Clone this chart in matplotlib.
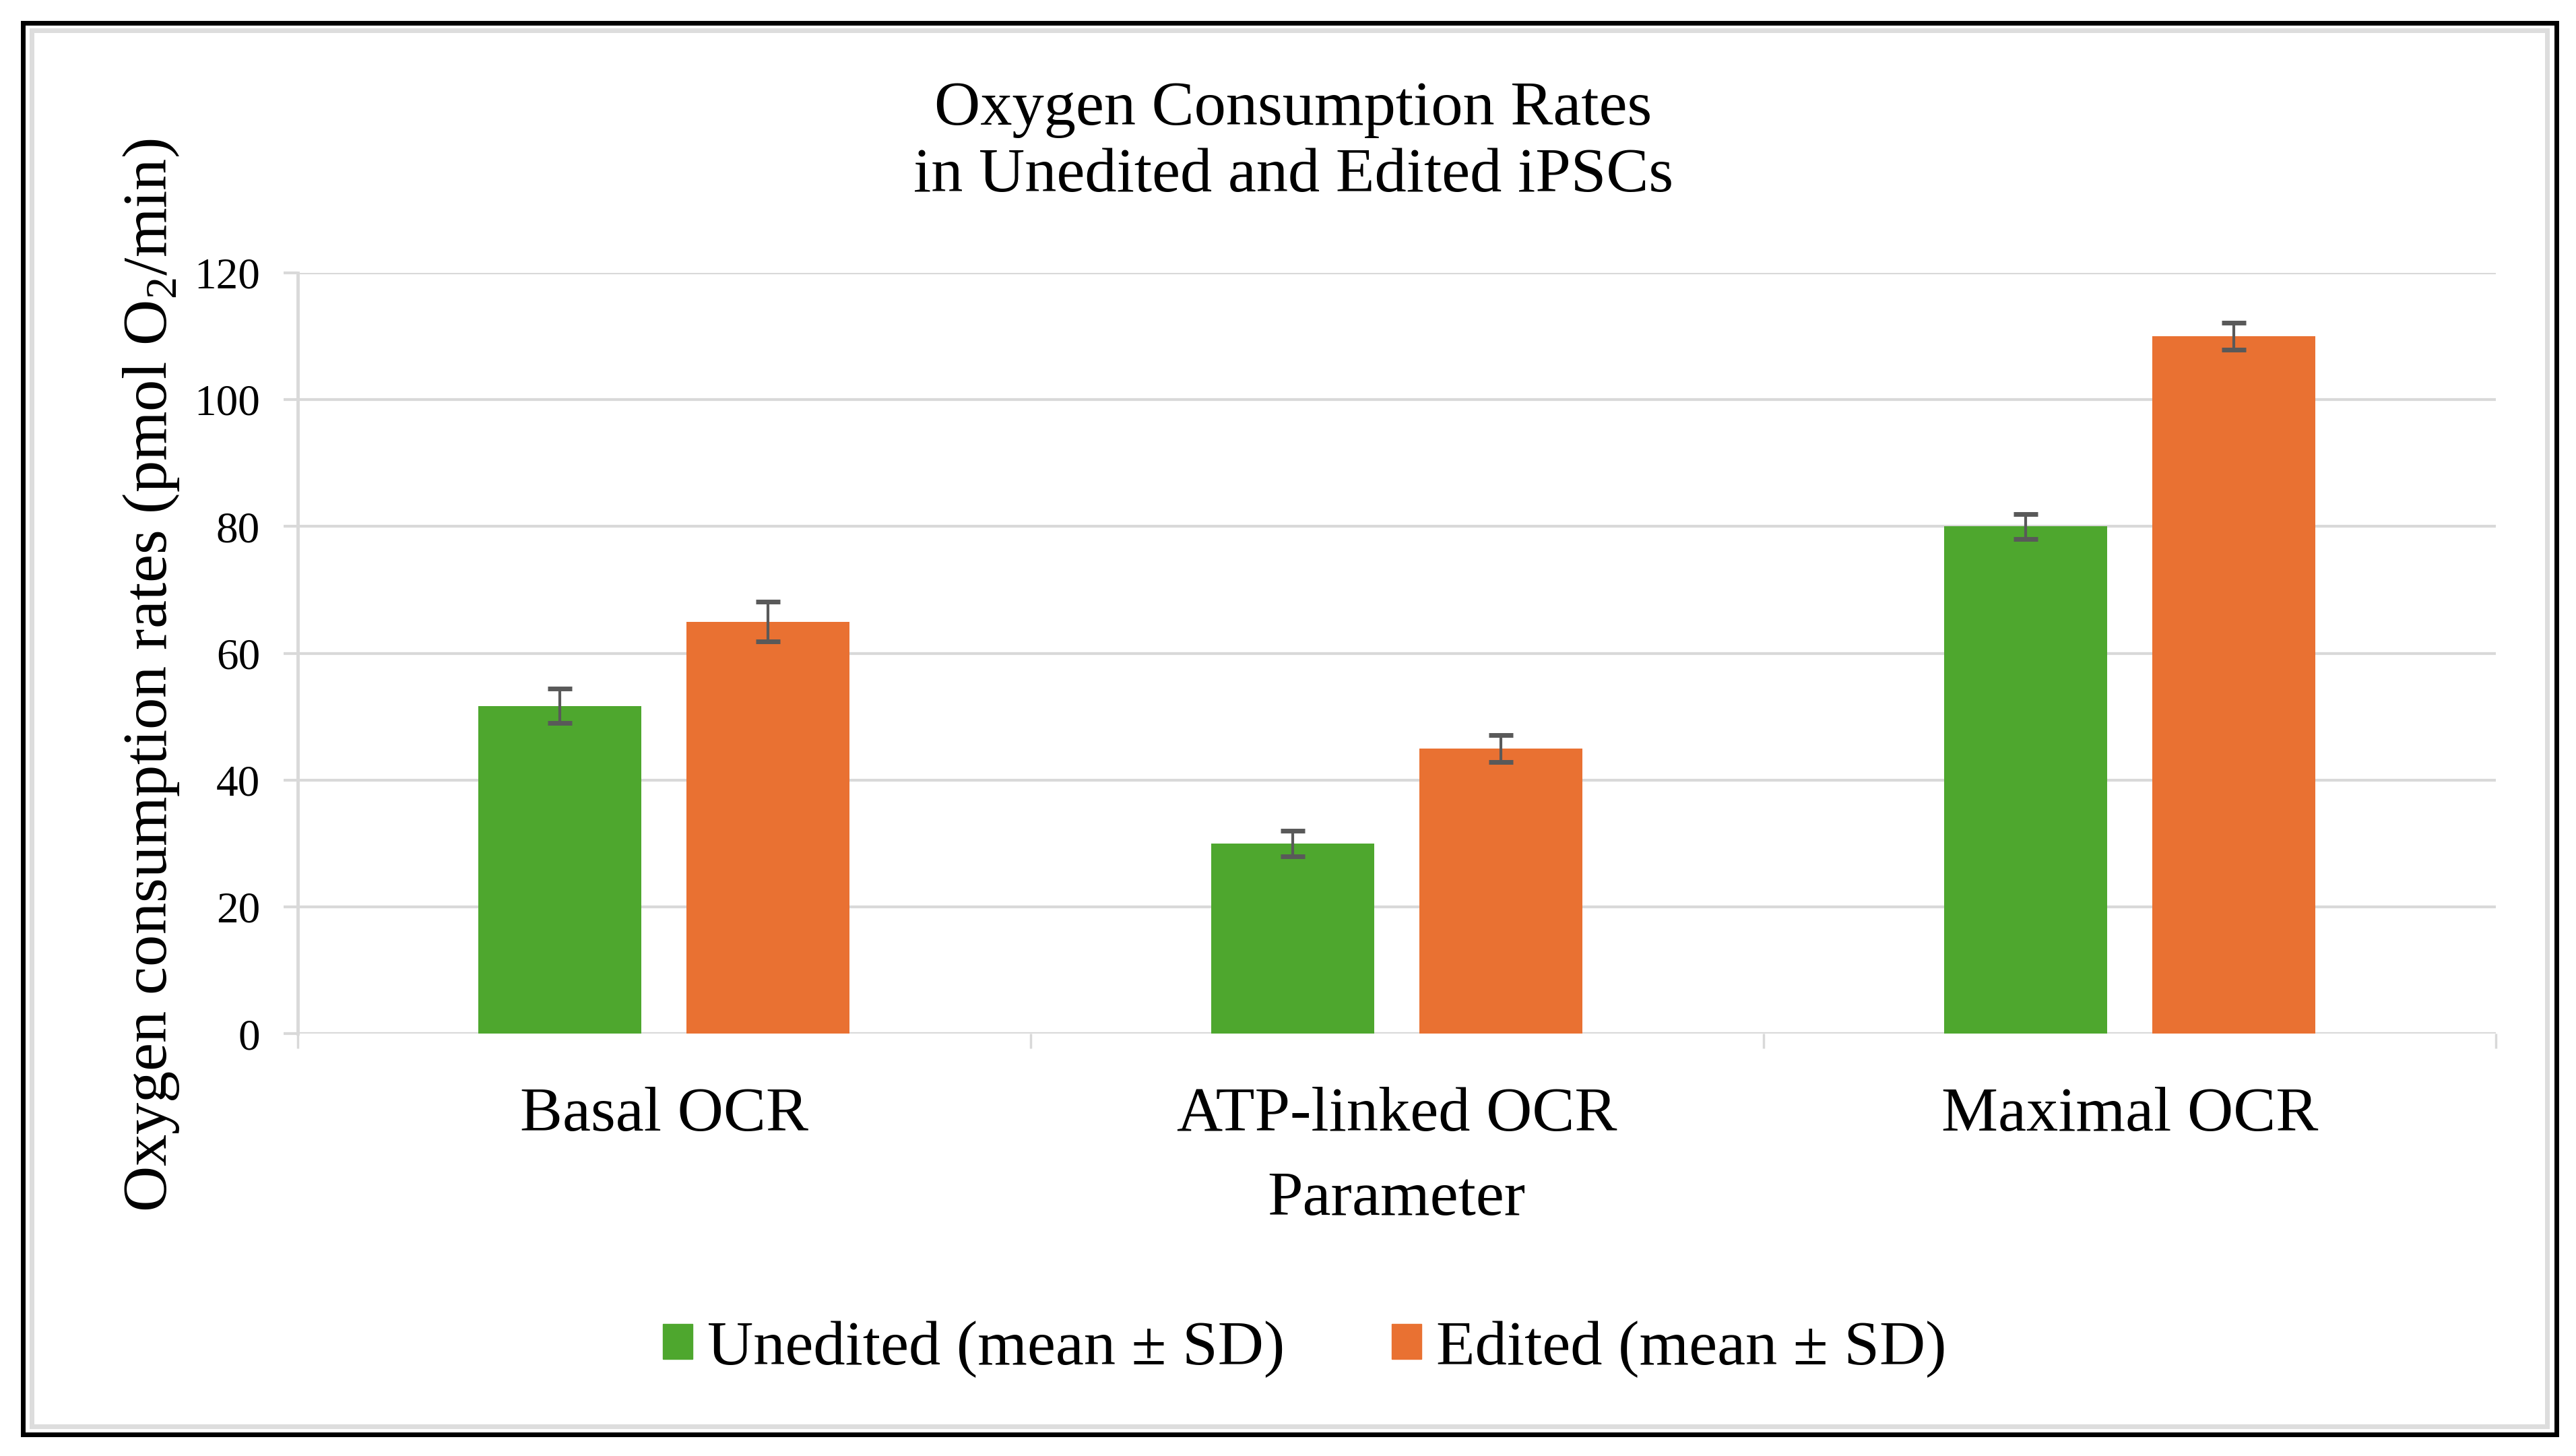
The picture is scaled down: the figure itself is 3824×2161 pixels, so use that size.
import numpy as np
import matplotlib
matplotlib.use("Agg")
import matplotlib.pyplot as plt
from matplotlib.patches import Rectangle, Patch

plt.rcParams['font.family'] = ['Liberation Serif', 'DejaVu Serif']
plt.rcParams['mathtext.fontset'] = 'custom'
plt.rcParams['mathtext.rm'] = 'Liberation Serif'

# data
categories = ['Basal OCR', 'ATP-linked OCR', 'Maximal OCR']
unedited_mean = [51.7, 30.0, 80.0]
unedited_sd = [2.7, 2.0, 2.0]
edited_mean = [65.0, 45.0, 110.0]
edited_sd = [3.1, 2.1, 2.1]
series_labels = ['Unedited (mean ± SD)', 'Edited (mean ± SD)']
yticks = [0, 20, 40, 60, 80, 100, 120]

green = '#4EA72E'
orange = '#E97132'
grid_c = '#D9D9D9'
err_c = '#595959'

fig = plt.figure(figsize=(38.24, 21.61), dpi=100)
ax = fig.add_axes([0.1155, 0.290, 0.969 - 0.1155, 0.8126 - 0.290])

x = np.arange(len(categories))
w = 0.222
off = 0.142
ax.bar(x - off, unedited_mean, w, color=green, zorder=3)
ax.bar(x + off, edited_mean, w, color=orange, zorder=3)
ax.errorbar(x - off, unedited_mean, yerr=unedited_sd, fmt='none', ecolor=err_c,
            elinewidth=3, capsize=13, capthick=5, zorder=4)
ax.errorbar(x + off, edited_mean, yerr=edited_sd, fmt='none', ecolor=err_c,
            elinewidth=3, capsize=13, capthick=5, zorder=4)

ax.set_xlim(-0.5, len(categories) - 0.5)
ax.set_ylim(0, 120)
ax.set_yticks(yticks)
ax.yaxis.grid(True, color=grid_c, linewidth=3, zorder=0)
ax.set_axisbelow(True)
for s in ['top', 'right', 'bottom']:
    ax.spines[s].set_visible(False)
ax.spines['left'].set_color(grid_c)
ax.spines['left'].set_linewidth(3.5)
ax.tick_params(axis='y', length=15, width=3, color=grid_c, pad=25, labelsize=47)

ax.set_xticks(x)
ax.set_xticklabels(categories, fontsize=68)
ax.set_xticks(np.arange(len(categories) + 1) - 0.5, minor=True)
ax.tick_params(axis='x', which='major', length=0, pad=57)
ax.tick_params(axis='x', which='minor', length=16, width=2.5, color=grid_c)

fig.text(0.502, 0.902, 'Oxygen Consumption Rates\nin Unedited and Edited iPSCs',
         ha='center', va='center', fontsize=68, linespacing=1.22)
fig.text(0.0587, 0.536, r'Oxygen consumption rates (pmol O$_\mathrm{2}$/min)',
         rotation=90, ha='center', va='center', fontsize=68)
fig.text(0.542, 0.176, 'Parameter', ha='center', va='center', fontsize=68)

handles = [Patch(color=green), Patch(color=orange)]
fig.legend(handles, series_labels, loc='center', bbox_to_anchor=(0.5065, 0.0735),
           ncol=2, frameon=False, fontsize=68, handlelength=0.47, handleheight=0.47,
           handletextpad=0.23, columnspacing=1.68)

# outer frame
fig.patches.append(Rectangle((0.0123, 0.0205), 0.9765, 0.9586, transform=fig.transFigure,
                             fill=False, edgecolor='#DDDDDD', linewidth=5))
fig.patches.append(Rectangle((0.0089, 0.0148), 0.9835, 0.9695, transform=fig.transFigure,
                             fill=False, edgecolor='black', linewidth=5))

fig.savefig('out.png', dpi=100, facecolor='white')
